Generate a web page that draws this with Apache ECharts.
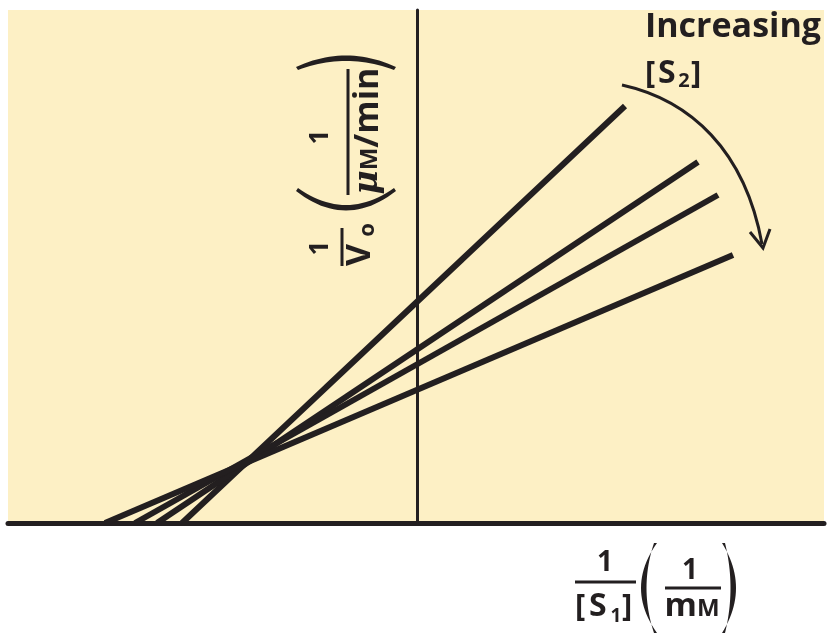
<!DOCTYPE html>
<html>
<head>
<meta charset="utf-8">
<script src="https://cdn.jsdelivr.net/npm/echarts@6/dist/echarts.min.js"></script>
<style>html,body{margin:0;padding:0;background:#fff;}#c{width:833px;height:644px;}</style>
</head>
<body>
<div id="c"></div>
<script>
// Lineweaver-Burk lines (data units): x-intercept start and right-hand end point
var lineNames = ['S2 level 1', 'S2 level 2', 'S2 level 3', 'S2 level 4'];
var xStart = [-2.35, -2.60, -2.82, -3.12];
var xEnd = [2.08, 2.81, 3.01, 3.16];
var yEnd = [4.17, 3.61, 3.28, 2.68];
var xRange = [-4.09, 4.07];
var yRange = [0, 5.13];

var INK = '#231f20';
var FONT = '"Open Sans", "Lato", sans-serif';

var chart = echarts.init(document.getElementById('c'), null, {renderer: 'canvas'});

var series = lineNames.map(function (n, i) {
  return {
    name: n,
    type: 'line',
    data: [[xStart[i], 0], [xEnd[i], yEnd[i]]],
    symbol: 'none',
    silent: true,
    clip: false,
    lineStyle: {color: INK, width: 6, cap: 'butt'},
    z: 3
  };
});

function txt(x, y, text, size, align, vAlign) {
  return {
    type: 'text',
    x: x, y: y,
    style: {
      text: text,
      fontSize: size,
      fontWeight: 'bold',
      fontFamily: FONT,
      fill: INK,
      align: align || 'left',
      verticalAlign: vAlign || 'middle'
    }
  };
}
function bar(x1, y1, x2, y2, w) {
  return {type: 'line', shape: {x1: x1, y1: y1, x2: x2, y2: y2}, style: {stroke: INK, lineWidth: w || 3}};
}
function quad(p0, c, p1, n) {
  var pts = [];
  for (var i = 0; i <= n; i++) {
    var t = i / n, a = (1 - t) * (1 - t), b = 2 * (1 - t) * t, d = t * t;
    pts.push([a * p0[0] + b * c[0] + d * p1[0], a * p0[1] + b * c[1] + d * p1[1]]);
  }
  return pts;
}
// crescent-shaped parenthesis: outer curve p0->c->p1, inner curve q1->ci->q0
function paren(p0, c, p1, q0, ci, q1) {
  var pts = quad(p0, c, p1, 24).concat(quad(q1, ci, q0, 24));
  return {type: 'polygon', shape: {points: pts}, style: {fill: INK, stroke: null}};
}

// y-axis title (rotated group, local frame: x goes up the page, y goes right)
var yTitle = {
  type: 'group',
  x: 300, y: 270,
  rotation: Math.PI / 2,
  children: [
    txt(22, 21, '1', 26, 'center', 'middle'),
    bar(4, 42, 42, 42, 3),
    txt(15, 60, 'V', 34, 'center', 'middle'),
    txt(40, 68, 'o', 22, 'center', 'middle'),
    paren([79, -4], [40, 46], [79, 96], [82, -2], [48, 46], [82, 94]),
    txt(133, 21, '1', 26, 'center', 'middle'),
    bar(75, 48, 201, 48, 3),
    {
      type: 'text', x: 139, y: 68,
      style: {
        text: '{g|\u03bc}{s|M}{n|/min}',
        align: 'center', verticalAlign: 'middle',
        rich: {
          g: {fontSize: 33, fontFamily: 'DejaVu Serif', fontStyle: 'italic', fontWeight: 'bold', fill: INK},
          s: {fontSize: 24, fontWeight: 'bold', fontFamily: FONT, fill: INK, padding: [4, 0, 0, 0]},
          n: {fontSize: 34, fontWeight: 'bold', fontFamily: FONT, fill: INK}
        }
      }
    },
    paren([203, -4], [226, 46], [203, 96], [200, -2], [218, 46], [200, 94])
  ]
};

var graphics = [
  yTitle,
  // x-axis title
  txt(605, 563, '1', 28, 'center', 'middle'),
  bar(575, 582, 636, 582, 3),
  txt(575, 607, '[', 31, 'left', 'middle'),
  txt(589, 607, 'S', 32, 'left', 'middle'),
  txt(616, 617, '1', 19, 'center', 'middle'),
  txt(622, 607, ']', 31, 'left', 'middle'),
  paren([657, 543], [625, 588], [657, 633], [654, 543], [639, 588], [654, 633]),
  txt(690, 571, '1', 28, 'center', 'middle'),
  bar(665, 588, 721, 588, 3),
  {
    type: 'text', x: 692, y: 607,
    style: {
      text: '{m|m}{s|M}',
      align: 'center', verticalAlign: 'middle',
      rich: {
        m: {fontSize: 33, fontWeight: 'bold', fontFamily: FONT, fill: INK},
        s: {fontSize: 24, fontWeight: 'bold', fontFamily: FONT, fill: INK, padding: [4, 0, 0, 0]}
      }
    }
  },
  paren([722, 543], [750, 588], [722, 633], [725, 543], [736, 588], [725, 633]),
  // annotation
  txt(645, 27, 'Increasing', 34, 'left', 'middle'),
  txt(645, 74, '[', 31, 'left', 'middle'),
  txt(658, 74, 'S', 32, 'left', 'middle'),
  txt(684, 81, '2', 20, 'center', 'middle'),
  txt(691, 74, ']', 31, 'left', 'middle'),
  {
    type: 'bezierCurve',
    shape: {x1: 622, y1: 85, cpx1: 690, cpy1: 100, cpx2: 745, cpy2: 150, x2: 762, y2: 244},
    style: {stroke: INK, lineWidth: 3, fill: null}
  },
  {
    type: 'polyline',
    shape: {points: [[750, 232], [763, 248], [770, 229]]},
    style: {stroke: INK, lineWidth: 3, fill: null}
  }
];

chart.setOption({
  animation: false,
  backgroundColor: '#ffffff',
  grid: {left: 8, right: 9, top: 10, bottom: 121, show: true, backgroundColor: '#fdf0c5', borderWidth: 0},
  xAxis: {
    type: 'value', min: xRange[0], max: xRange[1],
    axisLine: {show: true, onZero: true, lineStyle: {color: INK, width: 5}},
    axisTick: {show: false}, axisLabel: {show: false}, splitLine: {show: false}
  },
  yAxis: {
    type: 'value', min: yRange[0], max: yRange[1],
    axisLine: {show: true, onZero: true, lineStyle: {color: INK, width: 3}},
    axisTick: {show: false}, axisLabel: {show: false}, splitLine: {show: false}
  },
  series: series,
  graphic: graphics
});
</script>
</body>
</html>
